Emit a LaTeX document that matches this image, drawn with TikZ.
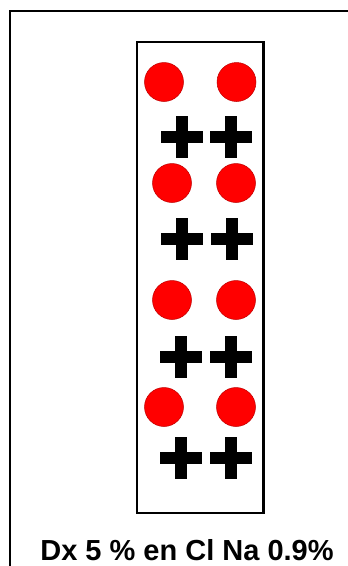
\documentclass[tikz,border=0pt]{standalone}
\usepackage{fontspec}
\setmainfont{Liberation Sans}
\begin{document}
\begin{tikzpicture}[x=1pt,y=-1pt,
  ion/.style={circle,fill=red,draw=red!75!black,line width=0.5pt,minimum size=39pt,inner sep=0pt},
  frameline/.style={line width=2pt,black},
  boxline/.style={line width=2.5pt,black}]
\useasboundingbox (0,0) rectangle (348,566);
\fill[white] (0,0) rectangle (348,566);
% outer frame (only left and top visible)
\coordinate (fl) at (10,566);
\coordinate (fc) at (10,11);
\coordinate (fr) at (348,11);
\draw[frameline] (fl) -- (fc) -- (fr);
% inner box
\draw[boxline] (137,42) rectangle (263.5,513);
% red circles
\node[ion] (c1a) at (164,82) {};
\node[ion] (c1b) at (236.5,82) {};
\node[ion] (c2a) at (172,183) {};
\node[ion] (c2b) at (236,183) {};
\node[ion] (c3a) at (172,300) {};
\node[ion] (c3b) at (236,300) {};
\node[ion] (c4a) at (164,407) {};
\node[ion] (c4b) at (236,407) {};
% plus signs
\foreach \x/\y in {182/137,231/137,182/239,232/239,181/357,231/357,181/458,231/458}{
  \fill[black] (\x-21,\y-6.3) rectangle (\x+21,\y+6.3);
  \fill[black] (\x-6.3,\y-21) rectangle (\x+6.3,\y+21);
}
% caption
\node[anchor=base,inner sep=0pt,font=\fontsize{29}{32}\selectfont\bfseries] (cap) at (187,560.5) {Dx 5 \% en Cl Na 0.9\%};
\end{tikzpicture}
\end{document}
